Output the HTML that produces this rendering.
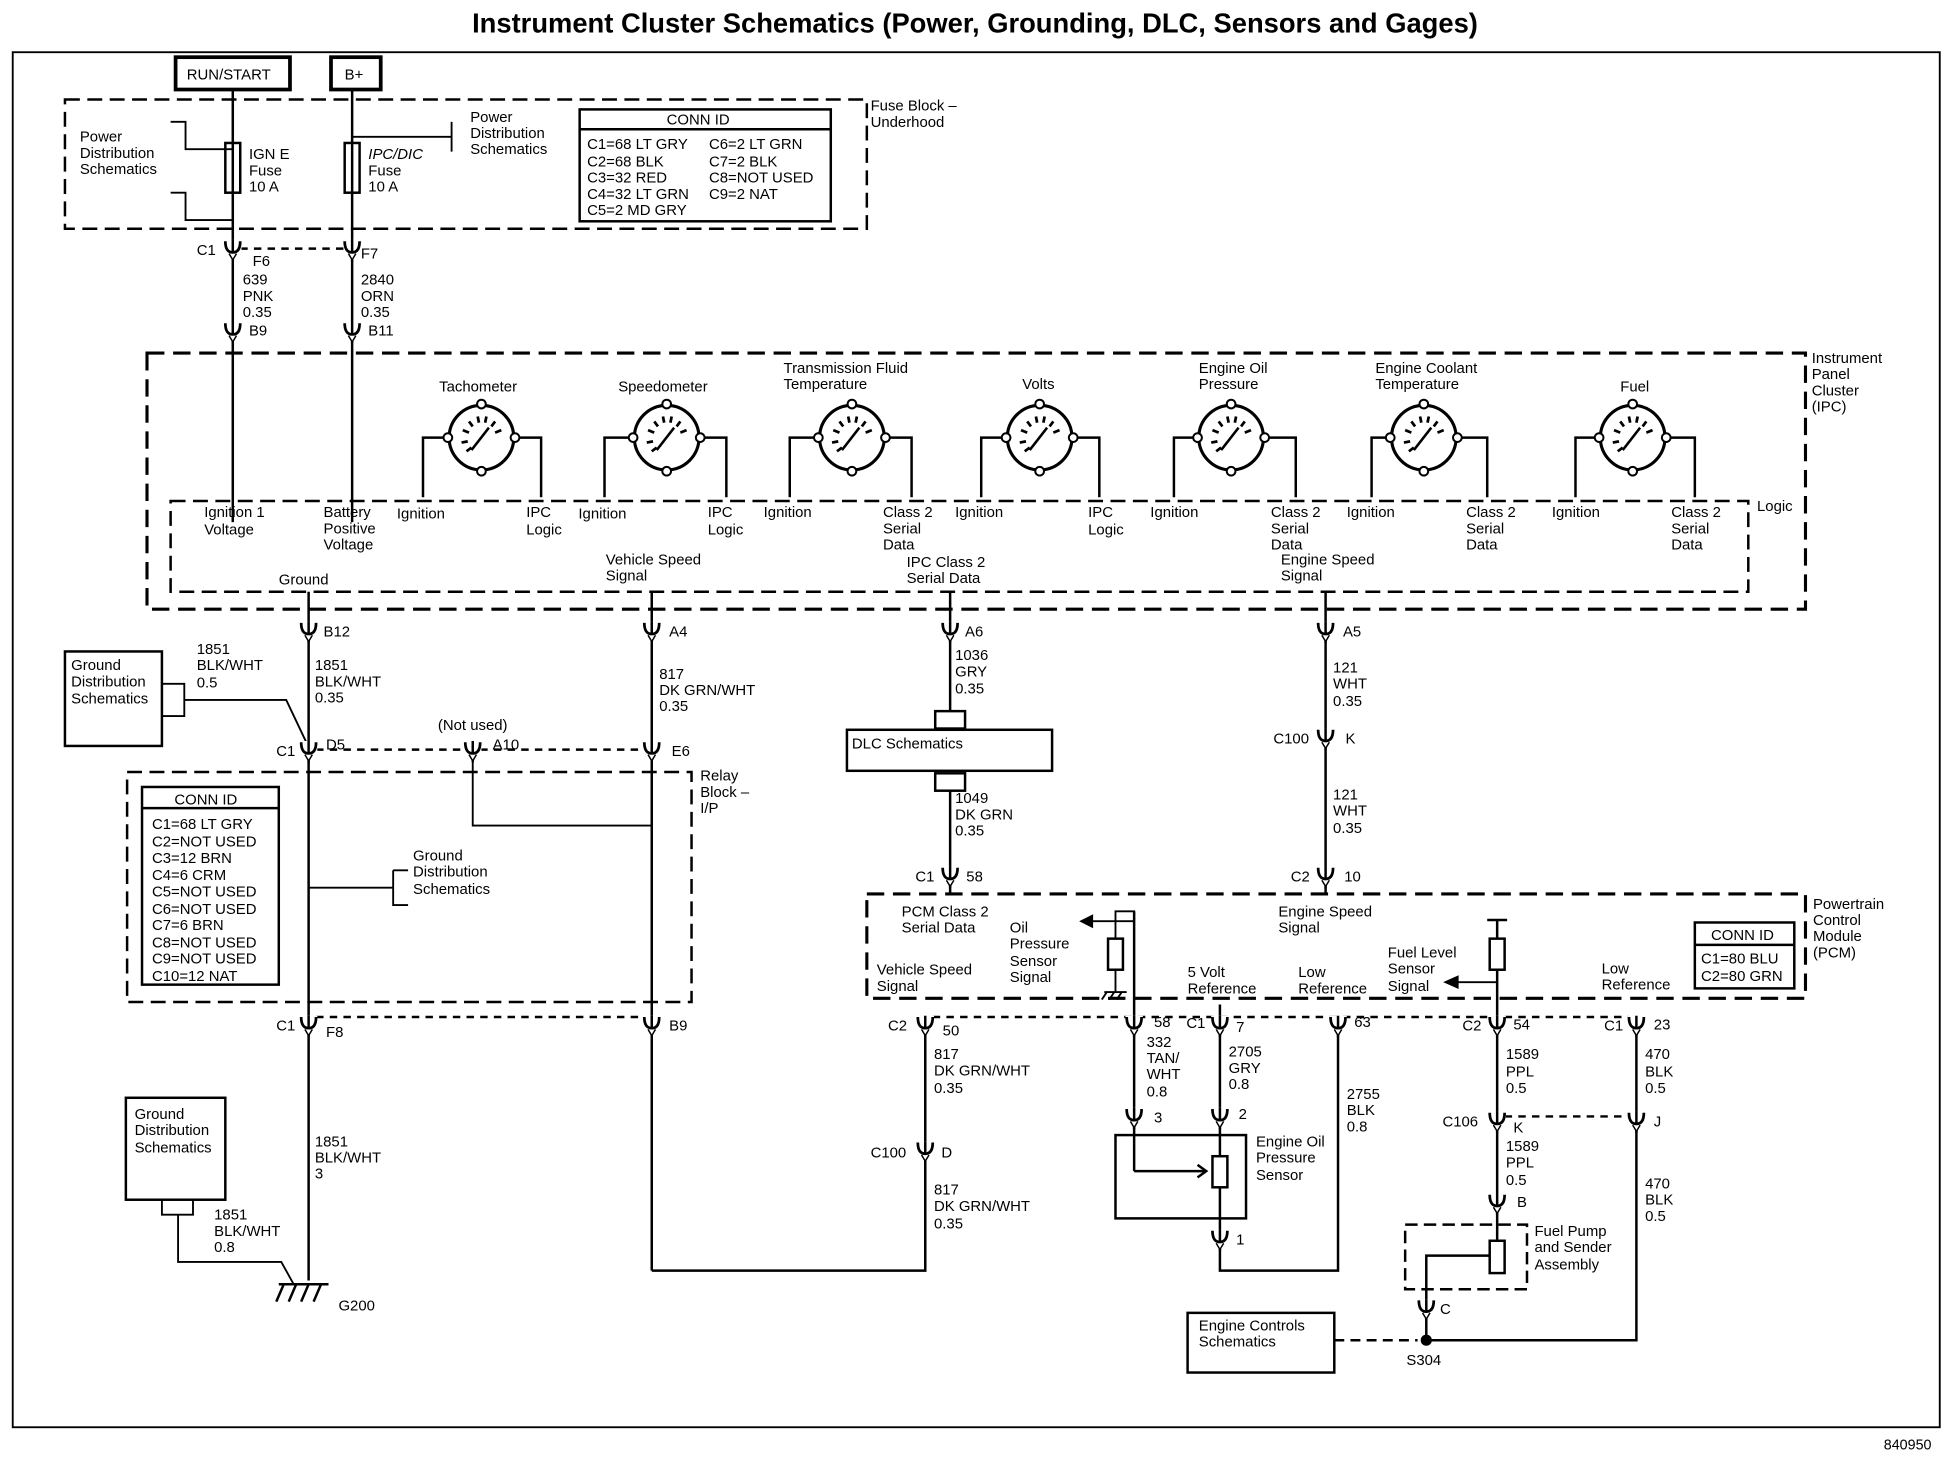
<!DOCTYPE html>
<html><head><meta charset="utf-8"><style>
html,body{margin:0;padding:0;background:#fff;}
svg{display:block;}
text{font-family:"Liberation Sans",Arial,sans-serif;font-size:12px;fill:#000;}
.t{font-size:11.5px;}
</style></head><body>
<svg width="1950" height="1472" viewBox="0 0 1568 1184" xmlns="http://www.w3.org/2000/svg">
<defs>
<g id="cn"><rect x="-7" y="-7" width="14" height="16" fill="#fff"/><path d="M-6,-6 Q-6,3 0,3 Q6,3 6,-6" fill="none" stroke="#000" stroke-width="2.2"/><path d="M-3,4 L0,9 L3,4" fill="none" stroke="#000" stroke-width="1.2"/><line x1="0" y1="-7" x2="0" y2="3" stroke="#000" stroke-width="2"/><line x1="0" y1="8" x2="0" y2="10" stroke="#000" stroke-width="2"/></g>
<g id="gauge"><circle r="26" fill="#fff" stroke="#000" stroke-width="2.5"/>
<g stroke="#000" stroke-width="2.2"><line x1="-16" y1="4" x2="-11" y2="3"/><line x1="-15" y1="-6" x2="-10" y2="-4"/><line x1="-10" y1="-13" x2="-7" y2="-9"/><line x1="-3" y1="-17" x2="-2" y2="-12"/><line x1="4" y1="-17" x2="3" y2="-12"/><line x1="11" y1="-13" x2="8" y2="-9"/><line x1="16" y1="-6" x2="11" y2="-4"/><line x1="-12" y1="11" x2="-8" y2="8"/></g>
<line x1="-8" y1="10" x2="6" y2="-8" stroke="#000" stroke-width="2"/>
<g fill="#fff" stroke="#000" stroke-width="1.6"><circle cx="-27" cy="0" r="3.5"/><circle cx="27" cy="0" r="3.5"/><circle cx="0" cy="-27" r="3.5"/><circle cx="0" cy="27" r="3.5"/></g></g>
</defs>
<rect width="1568" height="1184" fill="#fff"/>
<text x="784" y="26" text-anchor="middle" style="font-size:22px;font-weight:bold">Instrument Cluster Schematics (Power, Grounding, DLC, Sensors and Gages)</text>
<rect x="10" y="42" width="1550" height="1106" fill="none" stroke="#000" stroke-width="1.5"/>
<text x="1515" y="1166" class="t">840950</text>

<g stroke="#000" fill="none" stroke-width="2">
<rect x="141" y="46" width="92" height="26" stroke-width="3"/>
<rect x="266" y="46" width="40" height="26" stroke-width="3"/>
<rect x="52" y="80" width="645" height="104" stroke-dasharray="12,6"/>
<rect x="466" y="88" width="202" height="90"/>
<line x1="466" y1="104" x2="668" y2="104"/>
<line x1="187" y1="72" x2="187" y2="196"/>
<line x1="283" y1="72" x2="283" y2="196"/>
<rect x="181" y="115" width="12" height="40" fill="#fff"/><line x1="187" y1="115" x2="187" y2="155"/>
<rect x="277" y="115" width="12" height="40" fill="#fff"/><line x1="283" y1="115" x2="283" y2="155"/>
<path d="M137,98 h12 v22 h38 M137,155 h12 v22 h38" stroke-width="1.5"/>
<path d="M283,110 h80 M363,98 v24" stroke-width="1.5"/>
<line x1="187" y1="205" x2="187" y2="262"/>
<line x1="283" y1="205" x2="283" y2="262"/>
<line x1="187" y1="270" x2="187" y2="420"/>
<line x1="283" y1="270" x2="283" y2="420"/>
<line x1="193" y1="200" x2="277" y2="200" stroke-dasharray="6,5"/>
<rect x="118" y="284" width="1334" height="206" stroke-dasharray="14,7" stroke-width="2.5"/>
<rect x="137" y="403" width="1269" height="73" stroke-dasharray="12,6"/>
</g>
<use href="#cn" x="187" y="200"/><use href="#cn" x="283" y="200"/>
<use href="#cn" x="187" y="266"/><use href="#cn" x="283" y="266"/>

<g stroke="#000" fill="none" stroke-width="2">
<path d="M357,352 h-17 v48 M417,352 h18 v48"/>
<path d="M506,352 h-20 v48 M566,352 h18 v48"/>
<path d="M655,352 h-20 v48 M715,352 h18 v48"/>
<path d="M806,352 h-17 v48 M866,352 h18 v48"/>
<path d="M960,352 h-16 v48 M1020,352 h22 v48"/>
<path d="M1115,352 h-12 v48 M1175,352 h21 v48"/>
<path d="M1283,352 h-16 v48 M1343,352 h20 v48"/>
</g>
<use href="#gauge" x="387" y="352"/><use href="#gauge" x="536" y="352"/><use href="#gauge" x="685" y="352"/>
<use href="#gauge" x="836" y="352"/><use href="#gauge" x="990" y="352"/><use href="#gauge" x="1145" y="352"/><use href="#gauge" x="1313" y="352"/>

<g stroke="#000" fill="none" stroke-width="2">
<line x1="248" y1="476" x2="248" y2="1030"/>
<line x1="524" y1="476" x2="524" y2="1022"/>
<path d="M524,1022 H744 V826"/>
<line x1="764" y1="476" x2="764" y2="572"/>
<rect x="752" y="572" width="24" height="14"/>
<rect x="681" y="587" width="165" height="33"/>
<rect x="752" y="622" width="24" height="14"/>
<line x1="764" y1="636" x2="764" y2="719"/>
<line x1="1066" y1="476" x2="1066" y2="719"/>
<rect x="52" y="524" width="78" height="76"/>
<path d="M130,550 h18 v26 h-18 M148,563 h82 l18,38" stroke-width="1.5"/>
<line x1="254" y1="603" x2="518" y2="603" stroke-dasharray="6,5"/>
<path d="M380,608 V664 H524" stroke-width="1.5"/>
<rect x="102" y="621" width="454" height="185" stroke-dasharray="12,6"/>
<rect x="114" y="633" width="110" height="159"/>
<line x1="114" y1="650" x2="224" y2="650"/>
<path d="M248,714 h68 M316,700 h12 M316,700 v28 h12" stroke-width="1.5"/>
<line x1="254" y1="818" x2="518" y2="818" stroke-dasharray="6,5"/>
<rect x="101" y="883" width="80" height="82"/>
<path d="M130,965 v12 h25 v-12 M143,977 V1015 H226 L236,1033" stroke-width="1.5"/>
<path d="M224,1033 h40 M228,1033 l-6,14 M238,1033 l-6,14 M248,1033 l-6,14 M258,1033 l-6,14" stroke-width="2"/>
<rect x="697" y="719" width="755" height="84" stroke-dasharray="14,7" stroke-width="2.5"/>
<rect x="1363" y="742" width="80" height="53"/>
<line x1="1363" y1="760" x2="1443" y2="760"/>
<line x1="750" y1="818" x2="1200" y2="818" stroke-dasharray="6,5"/>
<line x1="1210" y1="818" x2="1310" y2="818" stroke-dasharray="6,5"/>
<path d="M912,740 V733 H897 V755 M897,780 V798 M870,741 H912" stroke-width="1.5"/>
<path d="M870,741 l8,-4 v8 z" fill="#000"/>
<rect x="891" y="755" width="12" height="25" fill="#fff"/>
<path d="M888,798 h18 M890,798 l-4,6 M896,798 l-4,6 M902,798 l-4,6" stroke-width="1.5"/>
<line x1="912" y1="733" x2="912" y2="894"/>
<line x1="912" y1="902" x2="912" y2="942"/><line x1="912" y1="942" x2="970" y2="942"/>
<path d="M963,937 l7,5 -7,5" />
<rect x="897" y="913" width="105" height="67"/>
<line x1="981" y1="808" x2="981" y2="894"/>
<line x1="981" y1="902" x2="981" y2="930"/>
<rect x="975" y="930" width="12" height="25" fill="#fff"/>
<line x1="981" y1="955" x2="981" y2="992"/>
<path d="M981,1000 V1022 H1076 V826"/>
<path d="M1196,740 h16 M1204,740 V755"/>
<rect x="1198" y="755" width="12" height="25" fill="#fff"/>
<line x1="1204" y1="780" x2="1204" y2="998"/>
<path d="M1204,790 H1168" stroke-width="1.5"/><path d="M1163,790 l9,-4 v8 z" fill="#000"/>
<rect x="1130" y="985" width="98" height="52" stroke-dasharray="10,5"/>
<rect x="1198" y="998" width="12" height="26" fill="#fff"/>
<path d="M1198,1010 H1147 V1048"/>
<path d="M1147,1056 V1078 H1316 V826"/>
<line x1="1210" y1="898" x2="1310" y2="898" stroke-dasharray="6,5"/>
<rect x="955" y="1056" width="118" height="48"/>
<line x1="1073" y1="1078" x2="1140" y2="1078" stroke-dasharray="8,5"/>
</g>
<circle cx="1147" cy="1078" r="4.5" fill="#000"/>
<g>
<use href="#cn" x="248" y="507"/><use href="#cn" x="524" y="507"/><use href="#cn" x="764" y="507"/><use href="#cn" x="1066" y="507"/>
<use href="#cn" x="248" y="603"/><use href="#cn" x="380" y="603"/><use href="#cn" x="524" y="603"/>
<use href="#cn" x="1066" y="593"/><use href="#cn" x="1066" y="704"/><use href="#cn" x="764" y="704"/>
<use href="#cn" x="248" y="824"/><use href="#cn" x="524" y="824"/><use href="#cn" x="744" y="824"/><use href="#cn" x="912" y="824"/>
<use href="#cn" x="981" y="824"/><use href="#cn" x="1076" y="824"/><use href="#cn" x="1204" y="824"/><use href="#cn" x="1316" y="824"/>
<use href="#cn" x="744" y="925"/><use href="#cn" x="912" y="898"/><use href="#cn" x="981" y="898"/><use href="#cn" x="981" y="996"/>
<use href="#cn" x="1204" y="901"/><use href="#cn" x="1316" y="901"/><use href="#cn" x="1204" y="967"/><use href="#cn" x="1147" y="1052"/>
</g>

<g class="t">
<text x="150" y="64" style="font-size:12px">RUN/START</text>
<text x="277" y="64">B+</text>
<text x="64" y="114">Power</text><text x="64" y="127">Distribution</text><text x="64" y="140">Schematics</text>
<text x="200" y="128">IGN E</text><text x="200" y="141">Fuse</text><text x="200" y="154">10 A</text>
<text x="296" y="128" font-style="italic">IPC/DIC</text><text x="296" y="141">Fuse</text><text x="296" y="154">10 A</text>
<text x="378" y="98">Power</text><text x="378" y="111">Distribution</text><text x="378" y="124">Schematics</text>
<text x="536" y="100">CONN ID</text>
<text x="472" y="120">C1=68 LT GRY</text><text x="570" y="120">C6=2 LT GRN</text>
<text x="472" y="134">C2=68 BLK</text><text x="570" y="134">C7=2 BLK</text>
<text x="472" y="147">C3=32 RED</text><text x="570" y="147">C8=NOT USED</text>
<text x="472" y="160">C4=32 LT GRN</text><text x="570" y="160">C9=2 NAT</text>
<text x="472" y="173">C5=2 MD GRY</text>
<text x="700" y="89">Fuse Block –</text><text x="700" y="102">Underhood</text>
<text x="158" y="205">C1</text><text x="203" y="214">F6</text><text x="290" y="208">F7</text>
<text x="195" y="229">639</text><text x="195" y="242">PNK</text><text x="195" y="255">0.35</text>
<text x="290" y="229">2840</text><text x="290" y="242">ORN</text><text x="290" y="255">0.35</text>
<text x="200" y="270">B9</text><text x="296" y="270">B11</text>
<text x="1457" y="292">Instrument</text><text x="1457" y="305">Panel</text><text x="1457" y="318">Cluster</text><text x="1457" y="331">(IPC)</text>
<text x="1413" y="411">Logic</text>
<text x="353" y="315">Tachometer</text><text x="497" y="315">Speedometer</text>
<text x="630" y="300">Transmission Fluid</text><text x="630" y="313">Temperature</text>
<text x="822" y="313">Volts</text>
<text x="964" y="300">Engine Oil</text><text x="964" y="313">Pressure</text>
<text x="1106" y="300">Engine Coolant</text><text x="1106" y="313">Temperature</text>
<text x="1303" y="315">Fuel</text>
<text x="164" y="416">Ignition 1</text><text x="164" y="430">Voltage</text>
<text x="260" y="416">Battery</text><text x="260" y="429">Positive</text><text x="260" y="442">Voltage</text>
<text x="319" y="417">Ignition</text><text x="423" y="416">IPC</text><text x="423" y="430">Logic</text>
<text x="465" y="417">Ignition</text><text x="569" y="416">IPC</text><text x="569" y="430">Logic</text>
<text x="614" y="416">Ignition</text><text x="710" y="416">Class 2</text><text x="710" y="429">Serial</text><text x="710" y="442">Data</text>
<text x="768" y="416">Ignition</text><text x="875" y="416">IPC</text><text x="875" y="430">Logic</text>
<text x="925" y="416">Ignition</text><text x="1022" y="416">Class 2</text><text x="1022" y="429">Serial</text><text x="1022" y="442">Data</text>
<text x="1083" y="416">Ignition</text><text x="1179" y="416">Class 2</text><text x="1179" y="429">Serial</text><text x="1179" y="442">Data</text>
<text x="1248" y="416">Ignition</text><text x="1344" y="416">Class 2</text><text x="1344" y="429">Serial</text><text x="1344" y="442">Data</text>
<text x="224" y="470">Ground</text>
<text x="487" y="454">Vehicle Speed</text><text x="487" y="467">Signal</text>
<text x="729" y="456">IPC Class 2</text><text x="729" y="469">Serial Data</text>
<text x="1030" y="454">Engine Speed</text><text x="1030" y="467">Signal</text>
<text x="260" y="512">B12</text><text x="538" y="512">A4</text><text x="776" y="512">A6</text><text x="1080" y="512">A5</text>
<text x="57" y="539">Ground</text><text x="57" y="552">Distribution</text><text x="57" y="566">Schematics</text>
<text x="158" y="526">1851</text><text x="158" y="539">BLK/WHT</text><text x="158" y="553">0.5</text>
<text x="253" y="539">1851</text><text x="253" y="552">BLK/WHT</text><text x="253" y="565">0.35</text>
<text x="530" y="546">817</text><text x="530" y="559">DK GRN/WHT</text><text x="530" y="572">0.35</text>
<text x="768" y="531">1036</text><text x="768" y="544">GRY</text><text x="768" y="558">0.35</text>
<text x="1072" y="541">121</text><text x="1072" y="554">WHT</text><text x="1072" y="568">0.35</text>
<text x="352" y="587">(Not used)</text>
<text x="222" y="608">C1</text><text x="262" y="603">D5</text><text x="396" y="603">A10</text><text x="540" y="608">E6</text>
<text x="685" y="602">DLC Schematics</text>
<text x="1024" y="598">C100</text><text x="1082" y="598">K</text>
<text x="563" y="628">Relay</text><text x="563" y="641">Block –</text><text x="563" y="654">I/P</text>
<text x="140" y="647">CONN ID</text>
<text x="122" y="667">C1=68 LT GRY</text><text x="122" y="681">C2=NOT USED</text><text x="122" y="694">C3=12 BRN</text>
<text x="122" y="708">C4=6 CRM</text><text x="122" y="721">C5=NOT USED</text><text x="122" y="735">C6=NOT USED</text>
<text x="122" y="748">C7=6 BRN</text><text x="122" y="762">C8=NOT USED</text><text x="122" y="775">C9=NOT USED</text>
<text x="122" y="789">C10=12 NAT</text>
<text x="332" y="692">Ground</text><text x="332" y="705">Distribution</text><text x="332" y="719">Schematics</text>
<text x="768" y="646">1049</text><text x="768" y="659">DK GRN</text><text x="768" y="672">0.35</text>
<text x="1072" y="643">121</text><text x="1072" y="656">WHT</text><text x="1072" y="670">0.35</text>
<text x="736" y="709">C1</text><text x="777" y="709">58</text><text x="1038" y="709">C2</text><text x="1081" y="709">10</text>
<text x="1458" y="731">Powertrain</text><text x="1458" y="744">Control</text><text x="1458" y="757">Module</text><text x="1458" y="770">(PCM)</text>
<text x="725" y="737">PCM Class 2</text><text x="725" y="750">Serial Data</text>
<text x="812" y="750">Oil</text><text x="812" y="763">Pressure</text><text x="812" y="777">Sensor</text><text x="812" y="790">Signal</text>
<text x="705" y="784">Vehicle Speed</text><text x="705" y="797">Signal</text>
<text x="1028" y="737">Engine Speed</text><text x="1028" y="750">Signal</text>
<text x="955" y="786">5 Volt</text><text x="955" y="799">Reference</text>
<text x="1044" y="786">Low</text><text x="1044" y="799">Reference</text>
<text x="1116" y="770">Fuel Level</text><text x="1116" y="783">Sensor</text><text x="1116" y="797">Signal</text>
<text x="1288" y="783">Low</text><text x="1288" y="796">Reference</text>
<text x="1376" y="756">CONN ID</text><text x="1368" y="775">C1=80 BLU</text><text x="1368" y="789">C2=80 GRN</text>
<text x="222" y="829">C1</text><text x="262" y="834">F8</text><text x="538" y="829">B9</text>
<text x="714" y="829">C2</text><text x="758" y="833">50</text><text x="928" y="826">58</text>
<text x="954" y="827">C1</text><text x="994" y="830">7</text><text x="1089" y="826">63</text>
<text x="1176" y="829">C2</text><text x="1217" y="828">54</text><text x="1290" y="829">C1</text><text x="1330" y="828">23</text>
<text x="751" y="852">817</text><text x="751" y="865">DK GRN/WHT</text><text x="751" y="879">0.35</text>
<text x="922" y="842">332</text><text x="922" y="855">TAN/</text><text x="922" y="868">WHT</text><text x="922" y="882">0.8</text>
<text x="988" y="850">2705</text><text x="988" y="863">GRY</text><text x="988" y="876">0.8</text>
<text x="1083" y="884">2755</text><text x="1083" y="897">BLK</text><text x="1083" y="910">0.8</text>
<text x="1211" y="852">1589</text><text x="1211" y="866">PPL</text><text x="1211" y="879">0.5</text>
<text x="1323" y="852">470</text><text x="1323" y="866">BLK</text><text x="1323" y="879">0.5</text>
<text x="108" y="900">Ground</text><text x="108" y="913">Distribution</text><text x="108" y="927">Schematics</text>
<text x="928" y="903">3</text><text x="996" y="900">2</text>
<text x="1160" y="906">C106</text><text x="1217" y="911">K</text><text x="1330" y="906">J</text>
<text x="1211" y="926">1589</text><text x="1211" y="939">PPL</text><text x="1211" y="953">0.5</text>
<text x="1010" y="922">Engine Oil</text><text x="1010" y="935">Pressure</text><text x="1010" y="949">Sensor</text>
<text x="253" y="922">1851</text><text x="253" y="935">BLK/WHT</text><text x="253" y="948">3</text>
<text x="700" y="931">C100</text><text x="757" y="931">D</text>
<text x="1323" y="956">470</text><text x="1323" y="969">BLK</text><text x="1323" y="982">0.5</text>
<text x="751" y="961">817</text><text x="751" y="974">DK GRN/WHT</text><text x="751" y="988">0.35</text>
<text x="1220" y="971">B</text>
<text x="172" y="981">1851</text><text x="172" y="994">BLK/WHT</text><text x="172" y="1007">0.8</text>
<text x="1234" y="994">Fuel Pump</text><text x="1234" y="1007">and Sender</text><text x="1234" y="1021">Assembly</text>
<text x="994" y="1001">1</text>
<text x="272" y="1054">G200</text>
<text x="1158" y="1057">C</text>
<text x="964" y="1070">Engine Controls</text><text x="964" y="1083">Schematics</text>
<text x="1131" y="1098">S304</text>
</g>
</svg>
</body></html>
